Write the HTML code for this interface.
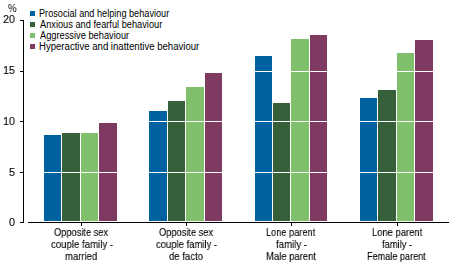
<!DOCTYPE html>
<html><head><meta charset="utf-8"><style>
html,body{margin:0;padding:0;background:#fff;}
body{width:454px;height:265px;position:relative;overflow:hidden;font-family:"Liberation Sans",sans-serif;color:#000;}
.b{position:absolute;}
.g{position:absolute;left:28px;width:421px;height:1px;background:#fff;}
.k{position:absolute;left:20px;width:4px;height:1px;background:#000;}
.xk{position:absolute;top:222px;width:1px;height:4px;background:#000;}
.t{position:absolute;white-space:nowrap;line-height:1;transform-origin:0 0;}
.gr{will-change:transform;-webkit-text-stroke:0.1px #000;}
.sq{position:absolute;left:30px;width:5px;height:5px;}
</style></head><body>
<div class="b" style="left:44px;top:135px;width:17px;height:86px;background:#0061a0;"></div>
<div class="b" style="left:62px;top:133px;width:18px;height:88px;background:#35603a;"></div>
<div class="b" style="left:81px;top:133px;width:17px;height:88px;background:#80c06c;"></div>
<div class="b" style="left:99px;top:123px;width:18px;height:98px;background:#7f3a62;"></div>
<div class="b" style="left:149px;top:111px;width:18px;height:110px;background:#0061a0;"></div>
<div class="b" style="left:168px;top:101px;width:17px;height:120px;background:#35603a;"></div>
<div class="b" style="left:186px;top:87px;width:18px;height:134px;background:#80c06c;"></div>
<div class="b" style="left:205px;top:73px;width:17px;height:148px;background:#7f3a62;"></div>
<div class="b" style="left:255px;top:56px;width:17px;height:165px;background:#0061a0;"></div>
<div class="b" style="left:273px;top:103px;width:17px;height:118px;background:#35603a;"></div>
<div class="b" style="left:291px;top:39px;width:18px;height:182px;background:#80c06c;"></div>
<div class="b" style="left:310px;top:35px;width:17px;height:186px;background:#7f3a62;"></div>
<div class="b" style="left:360px;top:98px;width:17px;height:123px;background:#0061a0;"></div>
<div class="b" style="left:378px;top:90px;width:18px;height:131px;background:#35603a;"></div>
<div class="b" style="left:397px;top:53px;width:17px;height:168px;background:#80c06c;"></div>
<div class="b" style="left:415px;top:40px;width:18px;height:181px;background:#7f3a62;"></div>
<div class="g" style="top:71px"></div>
<div class="g" style="top:121px"></div>
<div class="g" style="top:172px"></div>
<div style="position:absolute;left:23px;top:20px;width:1px;height:203px;background:#000"></div>
<div style="position:absolute;left:28px;top:222px;width:421px;height:1px;background:#000"></div>
<div class="k" style="top:20px"></div>
<div class="k" style="top:71px"></div>
<div class="k" style="top:121px"></div>
<div class="k" style="top:172px"></div>
<div class="k" style="top:222px"></div>
<div class="xk" style="left:81px"></div>
<div class="xk" style="left:186px"></div>
<div class="xk" style="left:291px"></div>
<div class="xk" style="left:397px"></div>
<div class="sq" style="top:11px;background:#0061a0"></div>
<div class="sq" style="top:22px;background:#35603a"></div>
<div class="sq" style="top:33px;background:#80c06c"></div>
<div class="sq" style="top:44px;background:#7f3a62"></div>
<span class="t" style="left:38.5px;top:9px;font-size:10px;transform:scaleX(0.9149)">Prosocial and helping behaviour</span>
<span class="t" style="left:39.5px;top:20px;font-size:10px;transform:scaleX(0.9242)">Anxious and fearful behaviour</span>
<span class="t" style="left:39.5px;top:31px;font-size:10px;transform:scaleX(0.9271)">Aggressive behaviour</span>
<span class="t" style="left:38.5px;top:42px;font-size:10px;transform:scaleX(0.9578)">Hyperactive and inattentive behaviour</span>
<span class="t gr" style="left:2.5px;top:14px;font-size:11px;transform:scaleX(0.98)">20</span>
<span class="t gr" style="left:2.5px;top:65px;font-size:11px;transform:scaleX(0.98)">15</span>
<span class="t gr" style="left:2.5px;top:116px;font-size:11px;transform:scaleX(0.98)">10</span>
<span class="t gr" style="left:8.5px;top:167px;font-size:11px;transform:scaleX(0.98)">5</span>
<span class="t gr" style="left:8.5px;top:217px;font-size:11px;transform:scaleX(0.98)">0</span>
<span class="t gr" style="left:7.5px;top:3px;font-size:11px;transform:scaleX(0.8711);-webkit-text-stroke:0">%</span>
<span class="t gr" style="left:53.5px;top:227px;font-size:11px;transform:scaleX(0.8416)">Opposite sex</span>
<span class="t gr" style="left:50.5px;top:239px;font-size:11px;transform:scaleX(0.8754)">couple family -</span>
<span class="t gr" style="left:64.5px;top:251px;font-size:11px;transform:scaleX(0.862)">married</span>
<span class="t gr" style="left:158.5px;top:227px;font-size:11px;transform:scaleX(0.8416)">Opposite sex</span>
<span class="t gr" style="left:155.5px;top:239px;font-size:11px;transform:scaleX(0.8611)">couple family -</span>
<span class="t gr" style="left:168.5px;top:251px;font-size:11px;transform:scaleX(0.8692)">de facto</span>
<span class="t gr" style="left:265.5px;top:227px;font-size:11px;transform:scaleX(0.8367)">Lone parent</span>
<span class="t gr" style="left:275.5px;top:239px;font-size:11px;transform:scaleX(0.8769)">family -</span>
<span class="t gr" style="left:265.5px;top:251px;font-size:11px;transform:scaleX(0.8596)">Male parent</span>
<span class="t gr" style="left:371.5px;top:227px;font-size:11px;transform:scaleX(0.854)">Lone parent</span>
<span class="t gr" style="left:381.5px;top:239px;font-size:11px;transform:scaleX(0.8486)">family -</span>
<span class="t gr" style="left:366.5px;top:251px;font-size:11px;transform:scaleX(0.8286)">Female parent</span>
</body></html>
